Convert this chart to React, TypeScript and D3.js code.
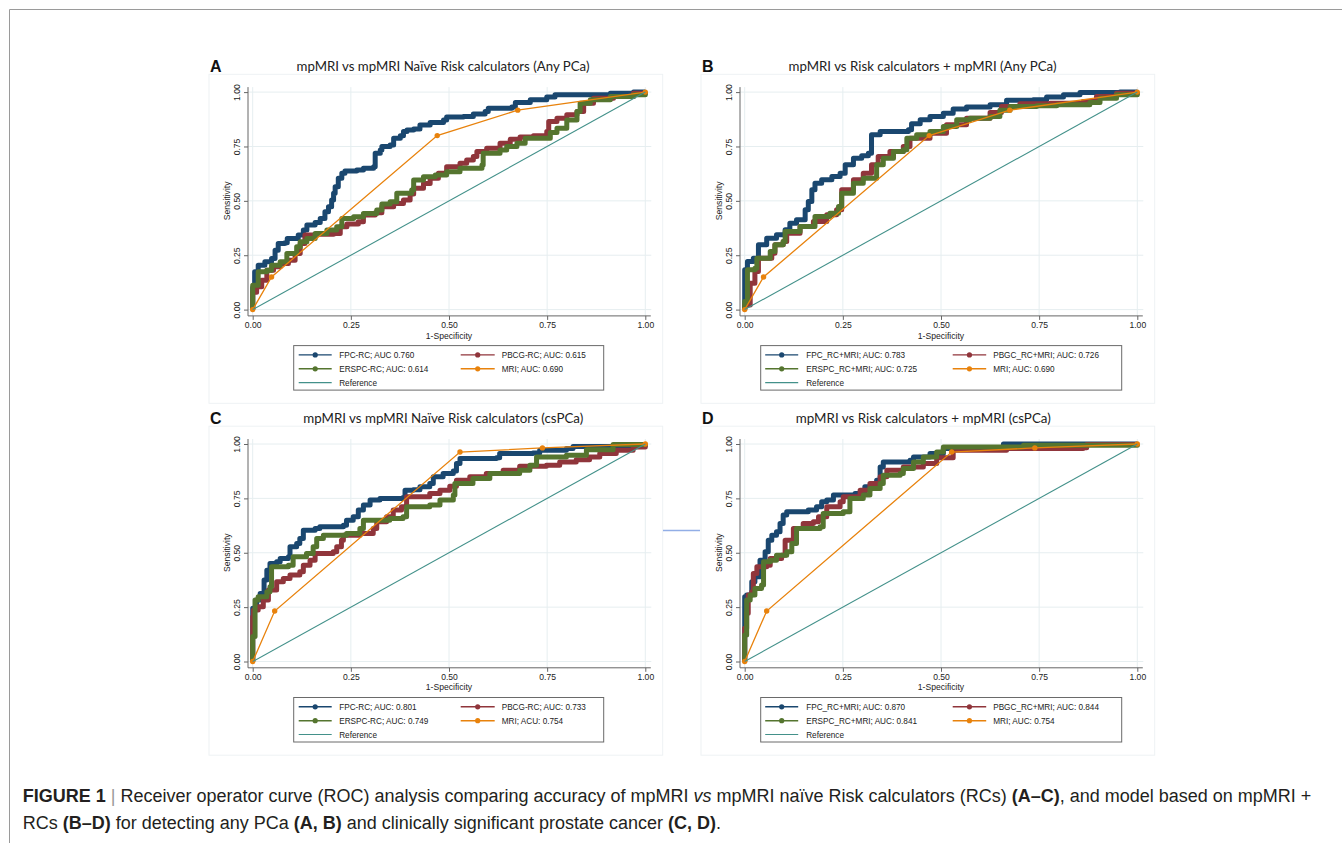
import React, { useEffect, useRef } from 'react'
import * as d3 from 'd3'

type Pt = [number, number]

const tickValues = [0, 0.25, 0.5, 0.75, 1]

// A: any PCa, mpMRI naive risk calculators
const fpcRcAny: Pt[] = [[0,0],[0,0.10],[0.005,0.174],[0.014,0.204],[0.031,0.22],[0.048,0.235],[0.057,0.273],[0.065,0.304],[0.082,0.307],[0.088,0.327],[0.116,0.343],[0.129,0.366],[0.138,0.389],[0.159,0.40],[0.172,0.419],[0.184,0.45],[0.193,0.473],[0.201,0.504],[0.206,0.535],[0.21,0.565],[0.218,0.604],[0.227,0.627],[0.235,0.637],[0.265,0.642],[0.282,0.65],[0.308,0.657],[0.312,0.719],[0.325,0.734],[0.329,0.75],[0.35,0.757],[0.359,0.788],[0.376,0.799],[0.384,0.819],[0.393,0.826],[0.41,0.83],[0.426,0.849],[0.452,0.86],[0.486,0.872],[0.494,0.885],[0.537,0.888],[0.562,0.899],[0.592,0.911],[0.60,0.926],[0.66,0.931],[0.669,0.952],[0.707,0.965],[0.749,0.977],[0.77,0.988],[0.911,0.995],[0.97,1],[1,1]]
const pbcgRcAny: Pt[] = [[0,0],[0,0.08],[0.01,0.105],[0.023,0.135],[0.036,0.181],[0.053,0.197],[0.07,0.212],[0.091,0.227],[0.108,0.258],[0.121,0.304],[0.133,0.343],[0.159,0.347],[0.206,0.35],[0.223,0.381],[0.24,0.393],[0.269,0.404],[0.282,0.435],[0.312,0.445],[0.329,0.473],[0.359,0.488],[0.384,0.504],[0.401,0.531],[0.41,0.558],[0.435,0.58],[0.452,0.604],[0.473,0.627],[0.494,0.657],[0.528,0.673],[0.545,0.688],[0.562,0.704],[0.571,0.727],[0.596,0.742],[0.63,0.765],[0.656,0.783],[0.681,0.793],[0.715,0.799],[0.749,0.819],[0.754,0.865],[0.775,0.88],[0.80,0.896],[0.826,0.911],[0.843,0.949],[0.868,0.972],[0.919,0.98],[0.97,0.995],[1,1]]
const erspcRcAny: Pt[] = [[0,0],[0,0.112],[0.014,0.174],[0.036,0.181],[0.048,0.204],[0.07,0.22],[0.087,0.258],[0.112,0.289],[0.121,0.312],[0.138,0.327],[0.159,0.35],[0.189,0.366],[0.214,0.381],[0.227,0.419],[0.257,0.427],[0.282,0.442],[0.316,0.458],[0.329,0.485],[0.35,0.496],[0.367,0.535],[0.405,0.55],[0.41,0.596],[0.435,0.611],[0.465,0.619],[0.494,0.634],[0.528,0.65],[0.584,0.665],[0.587,0.719],[0.63,0.734],[0.647,0.75],[0.673,0.765],[0.694,0.788],[0.758,0.814],[0.775,0.834],[0.80,0.872],[0.826,0.911],[0.834,0.949],[0.86,0.965],[0.911,0.98],[0.97,0.988],[1,1]]
const mriAny: Pt[] = [[0,0],[0.048,0.15],[0.47,0.80],[0.675,0.917],[1,1]]

// B: any PCa, risk calculators + mpMRI
const fpcMriAny: Pt[] = [[0,0],[0,0.183],[0.007,0.221],[0.022,0.236],[0.035,0.298],[0.056,0.328],[0.081,0.344],[0.103,0.367],[0.115,0.397],[0.132,0.413],[0.154,0.459],[0.162,0.497],[0.171,0.551],[0.179,0.581],[0.196,0.597],[0.222,0.612],[0.243,0.627],[0.256,0.666],[0.277,0.696],[0.298,0.707],[0.315,0.719],[0.323,0.804],[0.345,0.819],[0.417,0.827],[0.425,0.854],[0.447,0.873],[0.472,0.888],[0.506,0.903],[0.531,0.922],[0.565,0.931],[0.625,0.942],[0.667,0.962],[0.735,0.965],[0.769,0.977],[0.812,0.988],[0.854,0.998],[0.956,1],[1,1]]
const pbgcMriAny: Pt[] = [[0,0],[0,0.021],[0.005,0.021],[0.014,0.121],[0.026,0.175],[0.035,0.236],[0.069,0.259],[0.077,0.298],[0.098,0.313],[0.107,0.351],[0.141,0.382],[0.175,0.405],[0.209,0.436],[0.234,0.459],[0.247,0.551],[0.277,0.597],[0.302,0.627],[0.323,0.666],[0.34,0.704],[0.37,0.727],[0.404,0.75],[0.421,0.788],[0.472,0.811],[0.514,0.85],[0.565,0.88],[0.625,0.906],[0.654,0.934],[0.701,0.946],[0.778,0.949],[0.862,0.957],[0.896,0.98],[0.947,0.995],[1,1]]
const erspcMriAny: Pt[] = [[0,0],[0,0.037],[0.003,0.037],[0.007,0.183],[0.026,0.19],[0.031,0.236],[0.065,0.267],[0.077,0.298],[0.098,0.313],[0.103,0.359],[0.141,0.382],[0.179,0.428],[0.217,0.443],[0.239,0.474],[0.247,0.535],[0.277,0.581],[0.302,0.604],[0.328,0.604],[0.336,0.666],[0.353,0.696],[0.379,0.727],[0.404,0.735],[0.413,0.788],[0.438,0.804],[0.472,0.819],[0.506,0.842],[0.54,0.873],[0.574,0.88],[0.625,0.888],[0.65,0.916],[0.676,0.934],[0.744,0.937],[0.795,0.942],[0.879,0.952],[0.905,0.972],[0.947,0.988],[1,1]]

// C: csPCa, mpMRI naive risk calculators
const fpcRcCs: Pt[] = [[0,0],[0,0.245],[0.01,0.283],[0.019,0.313],[0.029,0.375],[0.036,0.42],[0.044,0.451],[0.061,0.459],[0.07,0.474],[0.091,0.482],[0.095,0.528],[0.112,0.543],[0.12,0.566],[0.129,0.604],[0.159,0.612],[0.171,0.619],[0.231,0.627],[0.239,0.65],[0.256,0.665],[0.269,0.696],[0.282,0.719],[0.299,0.742],[0.324,0.749],[0.383,0.754],[0.388,0.787],[0.409,0.79],[0.426,0.803],[0.451,0.818],[0.46,0.849],[0.485,0.864],[0.511,0.876],[0.519,0.91],[0.528,0.933],[0.621,0.937],[0.629,0.956],[0.714,0.959],[0.731,0.971],[0.799,0.979],[0.816,0.989],[0.969,0.994],[1,1]]
const pbcgRcCs: Pt[] = [[0,0],[0,0.206],[0.002,0.237],[0.014,0.252],[0.027,0.283],[0.04,0.329],[0.061,0.367],[0.078,0.382],[0.095,0.398],[0.12,0.413],[0.129,0.443],[0.146,0.466],[0.159,0.497],[0.205,0.505],[0.214,0.528],[0.226,0.558],[0.231,0.581],[0.273,0.589],[0.307,0.612],[0.316,0.642],[0.341,0.665],[0.358,0.696],[0.379,0.711],[0.392,0.757],[0.451,0.772],[0.477,0.787],[0.502,0.806],[0.519,0.833],[0.553,0.849],[0.595,0.864],[0.638,0.879],[0.68,0.898],[0.748,0.902],[0.782,0.917],[0.824,0.928],[0.858,0.94],[0.884,0.956],[0.926,0.971],[0.969,0.986],[1,1]]
const erspcRcCs: Pt[] = [[0,0],[0,0.115],[0.006,0.115],[0.006,0.283],[0.014,0.298],[0.036,0.321],[0.044,0.344],[0.048,0.436],[0.091,0.443],[0.103,0.482],[0.137,0.497],[0.154,0.528],[0.163,0.566],[0.18,0.581],[0.239,0.589],[0.273,0.612],[0.282,0.65],[0.349,0.657],[0.383,0.665],[0.392,0.711],[0.451,0.719],[0.477,0.742],[0.511,0.765],[0.515,0.818],[0.561,0.841],[0.604,0.864],[0.68,0.879],[0.706,0.902],[0.723,0.94],[0.799,0.948],[0.85,0.974],[0.918,0.998],[1,1]]
const mriCs: Pt[] = [[0,0],[0.056,0.232],[0.528,0.963],[0.738,0.982],[1,1]]

// D: csPCa, risk calculators + mpMRI
const fpcMriCs: Pt[] = [[0,0],[0,0.298],[0.005,0.306],[0.018,0.367],[0.026,0.39],[0.039,0.466],[0.052,0.505],[0.06,0.558],[0.069,0.581],[0.081,0.597],[0.09,0.635],[0.098,0.673],[0.107,0.688],[0.162,0.696],[0.183,0.711],[0.196,0.734],[0.209,0.742],[0.226,0.765],[0.281,0.772],[0.306,0.803],[0.336,0.833],[0.345,0.894],[0.353,0.917],[0.421,0.925],[0.43,0.94],[0.472,0.956],[0.506,0.979],[0.659,1],[1,1]]
const pbgcMriCs: Pt[] = [[0,0],[0,0.153],[0.005,0.222],[0.009,0.306],[0.018,0.321],[0.022,0.405],[0.031,0.436],[0.056,0.443],[0.065,0.474],[0.094,0.489],[0.103,0.558],[0.124,0.612],[0.149,0.635],[0.175,0.642],[0.188,0.665],[0.209,0.711],[0.243,0.734],[0.251,0.757],[0.294,0.787],[0.319,0.818],[0.345,0.849],[0.362,0.879],[0.404,0.894],[0.455,0.91],[0.489,0.937],[0.531,0.971],[0.667,0.979],[0.862,0.983],[0.871,0.998],[1,1]]
const erspcMriCs: Pt[] = [[0,0],[0,0.122],[0.005,0.283],[0.014,0.306],[0.026,0.336],[0.043,0.352],[0.048,0.459],[0.065,0.466],[0.081,0.489],[0.107,0.505],[0.12,0.543],[0.132,0.612],[0.192,0.619],[0.2,0.68],[0.251,0.688],[0.268,0.749],[0.302,0.765],[0.319,0.795],[0.345,0.818],[0.353,0.856],[0.396,0.864],[0.404,0.887],[0.43,0.917],[0.455,0.94],[0.489,0.963],[0.506,0.986],[0.71,0.994],[1,1]]
const mriCs2: Pt[] = [[0,0],[0.056,0.232],[0.527,0.963],[0.739,0.982],[1,1]]

const titles = [
  'mpMRI vs mpMRI Naïve Risk calculators (Any PCa)',
  'mpMRI vs Risk calculators + mpMRI (Any PCa)',
  'mpMRI vs mpMRI Naïve Risk calculators (csPCa)',
  'mpMRI vs Risk calculators + mpMRI (csPCa)',
]
const legendA = ['FPC-RC; AUC 0.760', 'PBCG-RC; AUC: 0.615', 'ERSPC-RC; AUC: 0.614', 'MRI; AUC: 0.690', 'Reference']
const legendB = ['FPC_RC+MRI; AUC: 0.783', 'PBGC_RC+MRI; AUC: 0.726', 'ERSPC_RC+MRI; AUC: 0.725', 'MRI; AUC: 0.690', 'Reference']
const legendC = ['FPC-RC; AUC: 0.801', 'PBCG-RC; AUC: 0.733', 'ERSPC-RC; AUC: 0.749', 'MRI; ACU: 0.754', 'Reference']
const legendD = ['FPC_RC+MRI; AUC: 0.870', 'PBGC_RC+MRI; AUC: 0.844', 'ERSPC_RC+MRI; AUC: 0.841', 'MRI; AUC: 0.754', 'Reference']

const colors = ['#1a476f', '#90353b', '#55752f', '#e8820c', '#43918a']

const panels = [
  { letter: 'A', title: titles[0], left: 252.7, top: 92.1, titleX: 443, titleW: 293, curves: [fpcRcAny, pbcgRcAny, erspcRcAny], mri: mriAny, legend: legendA, wide: false },
  { letter: 'B', title: titles[1], left: 744.7, top: 92.1, titleX: 922.5, titleW: 268, curves: [fpcMriAny, pbgcMriAny, erspcMriAny], mri: mriAny, legend: legendB, wide: true },
  { letter: 'C', title: titles[2], left: 252.7, top: 444, titleX: 443.3, titleW: 280, curves: [fpcRcCs, pbcgRcCs, erspcRcCs], mri: mriCs, legend: legendC, wide: false },
  { letter: 'D', title: titles[3], left: 744.7, top: 444, titleX: 923.3, titleW: 255, curves: [fpcMriCs, pbgcMriCs, erspcMriCs], mri: mriCs2, legend: legendD, wide: true },
]

const W = 392.6
const H = 217.5
const ARIAL = '"Liberation Sans", Arial, sans-serif'

function drawPanel(svg: any, p: any) {
  const x = d3.scaleLinear().domain([0, 1]).range([p.left, p.left + W])
  const y = d3.scaleLinear().domain([0, 1]).range([p.top + H, p.top])
  const axisX = p.left - 4.7
  const axisY = p.top + H + 6.3
  const g = svg.append('g')

  // faint graph region box
  g.append('rect')
    .attr('x', p.left - 43.7).attr('y', p.top - 17.8)
    .attr('width', 453.7).attr('height', 329)
    .style('fill', 'none').style('stroke', '#eef2f4').style('stroke-width', 1)

  g.append('text').text(p.letter)
    .attr('x', p.left - 42.7).attr('y', p.top - 20.5)
    .style('font-family', ARIAL).style('font-weight', 'bold').style('font-size', '16px')
    .style('fill', '#111')

  g.append('text').text(p.title)
    .attr('x', p.titleX).attr('y', p.top - 21.3)
    .attr('text-anchor', 'middle')
    .attr('textLength', p.titleW).attr('lengthAdjust', 'spacingAndGlyphs')
    .style('font-family', 'Lato, "Open Sans", sans-serif').style('font-size', '14px')
    .style('fill', '#222')

  // gridlines
  tickValues.forEach(t => {
    g.append('line')
      .attr('x1', axisX).attr('x2', x(1) + 6).attr('y1', y(t)).attr('y2', y(t))
      .style('stroke', '#e6eef0').style('stroke-width', 1)
    g.append('line')
      .attr('x1', x(t)).attr('x2', x(t)).attr('y1', y(1) - 5).attr('y2', axisY)
      .style('stroke', '#e6eef0').style('stroke-width', 1)
  })

  // axes
  const fmt = d3.format('.2f')
  const xa = g.append('g')
    .attr('transform', `translate(0,${axisY})`)
    .call(d3.axisBottom(x).tickValues(tickValues).tickFormat(fmt as any).tickSize(4).tickPadding(2.5))
  const ya = g.append('g')
    .attr('transform', `translate(${axisX},0)`)
    .call(d3.axisLeft(y).tickValues(tickValues).tickFormat(fmt as any).tickSize(4))
  ;[xa, ya].forEach(a => {
    a.attr('font-family', null).attr('font-size', null).attr('color', '#666')
    a.select('.domain').remove()
    a.selectAll('text').style('font-family', ARIAL).style('font-size', '8.6px').style('fill', '#222')
  })
  ya.selectAll('text')
    .attr('x', 0).attr('y', -7.6).attr('dy', 0)
    .attr('transform', 'rotate(-90)')
    .attr('text-anchor', 'middle')

  g.append('line').attr('x1', axisX).attr('x2', axisX).attr('y1', y(1) - 5).attr('y2', axisY)
    .style('stroke', '#666').style('stroke-width', 1)
  g.append('line').attr('x1', axisX).attr('x2', x(1) + 5.5).attr('y1', axisY).attr('y2', axisY)
    .style('stroke', '#666').style('stroke-width', 1)

  g.append('text').text('1-Specificity')
    .attr('x', x(0.5)).attr('y', axisY + 22.6)
    .attr('text-anchor', 'middle')
    .style('font-family', ARIAL).style('font-size', '8.6px').style('fill', '#222')
  g.append('text').text('Sensitivity')
    .attr('transform', `translate(${p.left - 22.3},${y(0.5)}) rotate(-90)`)
    .attr('text-anchor', 'middle')
    .style('font-family', ARIAL).style('font-size', '8.6px').style('fill', '#222')

  // ROC curves
  const stepLine = d3.line<Pt>().x(d => x(d[0])).y(d => y(d[1])).curve(d3.curveStepAfter)
  p.curves.forEach((c: Pt[], i: number) => {
    g.append('path')
      .datum(c)
      .attr('d', stepLine)
      .style('fill', 'none')
      .style('stroke', colors[i])
      .style('stroke-width', 5)
      .style('stroke-linejoin', 'round')
  })

  const line = d3.line<Pt>().x(d => x(d[0])).y(d => y(d[1]))
  g.append('path')
    .datum(p.mri)
    .attr('d', line)
    .style('fill', 'none').style('stroke', colors[3]).style('stroke-width', 1.3)
  g.selectAll('.mri-dot')
    .data(p.mri)
    .enter()
    .append('circle')
    .attr('cx', (d: Pt) => x(d[0])).attr('cy', (d: Pt) => y(d[1]))
    .attr('r', 2.7)
    .style('fill', colors[3])

  // reference diagonal
  g.append('path')
    .datum([[0, 0], [1, 1]] as Pt[])
    .attr('d', line)
    .style('fill', 'none').style('stroke', colors[4]).style('stroke-width', 1.1)

  // legend
  const boxTop = p.top + H + 36
  const lx = p.wide
    ? { box: 16, w: 361, cols: [[20.5, 53.5, 61.5], [208, 241.5, 248.5]] }
    : { box: 41, w: 310, cols: [[46, 79, 86.5], [208, 242, 249]] }
  g.append('rect')
    .attr('x', p.left + lx.box).attr('y', boxTop)
    .attr('width', lx.w).attr('height', 44.5)
    .style('fill', '#fff').style('stroke', '#6a6a6a').style('stroke-width', 1)
  const rows = [9.3, 23.2, 37]
  p.legend.forEach((label: string, i: number) => {
    const col = lx.cols[i % 2]
    const ry = boxTop + rows[Math.floor(i / 2)]
    const x1 = p.left + col[0]
    const x2 = p.left + col[1]
    g.append('line').attr('x1', x1).attr('x2', x2).attr('y1', ry).attr('y2', ry)
      .style('stroke', colors[i]).style('stroke-width', i === 4 ? 1.1 : 1.4)
    if (i < 4) {
      g.append('circle').attr('cx', (x1 + x2) / 2).attr('cy', ry).attr('r', 2.6).style('fill', colors[i])
    }
    g.append('text').text(label)
      .attr('x', p.left + col[2]).attr('y', ry + 3)
      .style('font-family', ARIAL).style('font-size', '8.2px').style('fill', '#222')
  })
}

function drawCaption(svg: any) {
  const lines = [
    [['FIGURE 1', 'b'], [' | ', 'g'], ['Receiver operator curve (ROC) analysis comparing accuracy of mpMRI ', ''], ['vs', 'i'], [' mpMRI naïve Risk calculators (RCs) ', ''], ['(A–C)', 'b'], [', and model based on mpMRI +', '']],
    [['RCs ', ''], ['(B–D)', 'b'], [' for detecting any PCa ', ''], ['(A, B)', 'b'], [' and clinically significant prostate cancer ', ''], ['(C, D)', 'b'], ['.', '']],
  ]
  const baselines = [801.8, 829.4]
  lines.forEach((parts, i) => {
    const t = svg.append('text')
      .attr('x', 22.7).attr('y', baselines[i])
      .style('font-family', ARIAL).style('font-size', '18px').style('fill', '#231f20')
      .style('white-space', 'pre')
    parts.forEach(([s, k]) => {
      const ts = t.append('tspan').text(s)
      if (k === 'b') ts.style('font-weight', 'bold')
      if (k === 'i') ts.style('font-style', 'italic')
      if (k === 'g') ts.style('fill', '#999')
    })
  })
}

export default function App() {
  const ref = useRef<SVGSVGElement>(null)

  useEffect(() => {
    const svg = d3.select(ref.current)
    svg.selectAll('*').remove()

    // figure frame
    svg.append('line').attr('x1', 9.5).attr('x2', 1342).attr('y1', 9.5).attr('y2', 9.5)
      .style('stroke', '#9a9a9a').style('stroke-width', 1)
    svg.append('line').attr('x1', 9.5).attr('x2', 9.5).attr('y1', 9.5).attr('y2', 843)
      .style('stroke', '#9a9a9a').style('stroke-width', 1)

    panels.forEach(p => drawPanel(svg, p))

    // small stray rule between panels C and D
    svg.append('line').attr('x1', 663).attr('x2', 700).attr('y1', 530.5).attr('y2', 530.5)
      .style('stroke', '#92aee6').style('stroke-width', 1.3)

    drawCaption(svg)
  }, [])

  return (
    <svg
      ref={ref}
      width={1342}
      height={843}
      style={{ position: 'absolute', left: 0, top: 0, background: '#fff' }}
    />
  )
}
